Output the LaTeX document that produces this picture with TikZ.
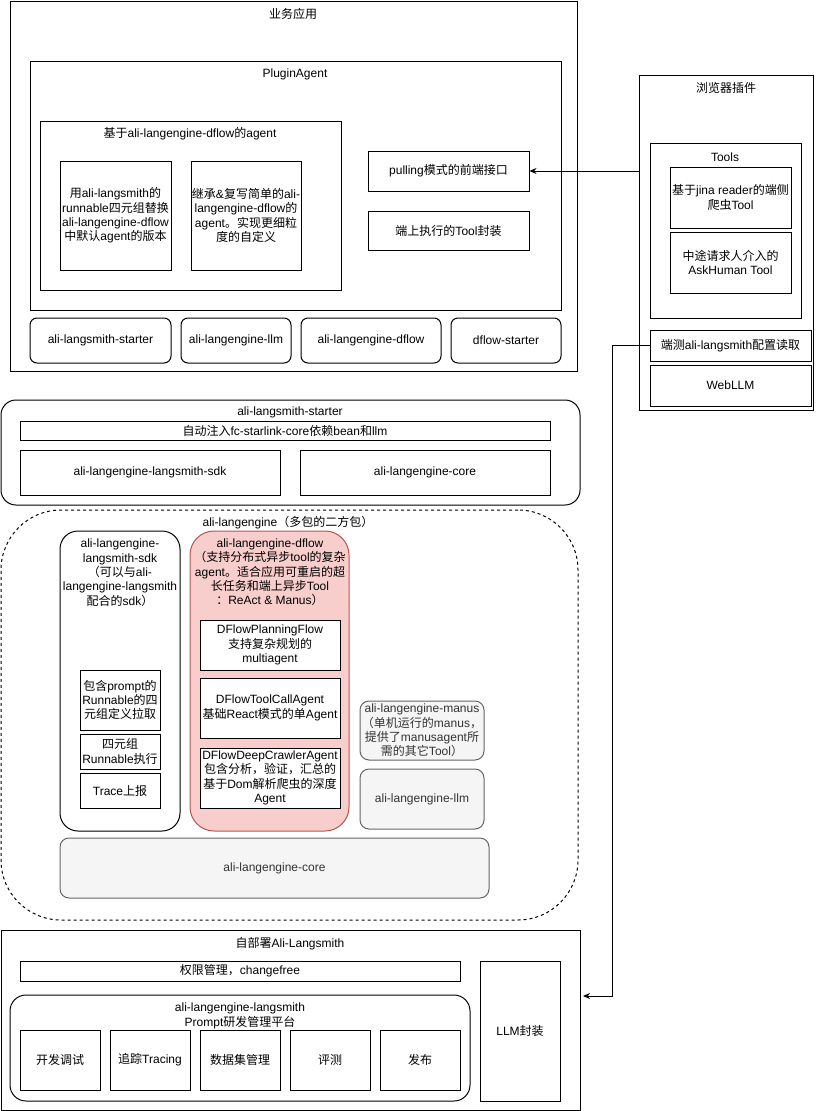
\documentclass[tikz,border=0pt]{standalone}
\usepackage{fontspec}
\setmainfont{Liberation Sans}
\newfontfamily\cjk{Noto Sans CJK SC}
\newcommand{\zh}[1]{{\cjk #1}}
\usetikzlibrary{arrows.meta}
\definecolor{redfill}{HTML}{F8CECC}
\definecolor{redline}{HTML}{B85450}
\definecolor{greyfill}{HTML}{F5F5F5}
\definecolor{greyline}{HTML}{666666}
\definecolor{greytext}{HTML}{333333}
\tikzset{
	every node/.style={font=\fontsize{12}{14.3}\selectfont, align=center, inner sep=0pt},
	sz/.style 2 args={minimum width=#1, minimum height=#2},
	box/.style={draw, line width=1pt, fill=white},
	rbox/.style={box, rounded corners=#1},
	rbox/.default=7pt,
	greybox/.style={rbox=#1, draw=greyline, fill=greyfill, text=greytext},
	greybox/.default=9pt,
	redbox/.style={rbox=24pt, draw=redline, fill=redfill},
	dashbox/.style={draw, line width=1pt, dash pattern=on 3pt off 3pt, rounded corners=60pt},
	arr/.style={-{Stealth[length=7pt,width=6pt]}, line width=1pt},
}

\begin{document}
\begin{tikzpicture}[x=1pt, y=-1pt]
	\useasboundingbox (0,0) rectangle (820,1111);
	% business application
	\node[box, sz={567pt}{370pt}] (biz) at (293.5,186) {};
	\node (bizT) at (293,14) {\zh{业务应用}};
	\node[box, sz={531pt}{249pt}] (plug) at (295.5,185.5) {};
	\node (plugT) at (295,74) {PluginAgent};
	\node[box, sz={301pt}{169pt}] (dflowAg) at (190.5,205.5) {};
	\node (dflowAgT) at (190,134) {\zh{基于}ali-langengine-dflow\zh{的}agent};
	\node[box, sz={111pt}{109pt}] (subA) at (115.5,215.5) {\zh{用}ali-langsmith\zh{的}\\runnable\zh{四元组替换}\\ali-langengine-dflow\\\zh{中默认}agent\zh{的版本}};
	\node[box, sz={110pt}{109pt}] (subB) at (246,215.5) {\zh{继承}\&\zh{复写简单的}ali-\\langengine-dflow\zh{的}\\agent\zh{。实现更细粒}\\\zh{度的自定义}};
	\node[box, sz={161pt}{40pt}] (pulling) at (448.5,171) {pulling\zh{模式的前端接口}};
	\node[box, sz={161pt}{39pt}] (tooling) at (448.5,230.5) {\zh{端上执行的}Tool\zh{封装}};
	% starters below plugin agent
	\node[rbox, sz={141pt}{45pt}] (st1) at (100.5,340.5) {ali-langsmith-starter};
	\node[rbox, sz={110pt}{45pt}] (st2) at (236,340.5) {ali-langengine-llm};
	\node[rbox, sz={140pt}{45pt}] (st3) at (371,340.5) {ali-langengine-dflow};
	\node[rbox, sz={110pt}{45pt}] (st4) at (506,340.5) {dflow-starter};

	% browser plugin
	\node[box, sz={174pt}{335pt}] (browser) at (726,242.5) {};
	\node (browT) at (726,88) {\zh{浏览器插件}};
	\node[box, sz={151pt}{175pt}] (tools) at (725.5,230.5) {};
	\node (toolsT) at (725,157) {Tools};
	\node[box, sz={121pt}{61pt}] (jina) at (730.5,197.5) {\zh{基于}jina reader\zh{的端侧}\\\zh{爬虫}Tool};
	\node[box, sz={121pt}{61pt}] (ask) at (730.5,262.5) {\zh{中途请求人介入的}\\AskHuman Tool};
	\node[box, sz={161pt}{31pt}] (cfg) at (730.5,345.5) {\zh{端测}ali-langsmith\zh{配置读取}};
	\node[box, sz={161pt}{41pt}] (webllm) at (730.5,385.5) {WebLLM};

	% ali-langsmith-starter
	\node[rbox=15pt, sz={579pt}{105pt}] (starter) at (290.5,452.5) {};
	\node (starterT) at (290,412) {ali-langsmith-starter};
	\node[box, sz={530pt}{19pt}] (inject) at (285,430.5) {\zh{自动注入}fc-starlink-core\zh{依赖}bean\zh{和}llm};
	\node[box, sz={260pt}{45pt}] (lsdk) at (150,472.5) {ali-langengine-langsmith-sdk};
	\node[box, sz={250pt}{45pt}] (lcore) at (425,472.5) {ali-langengine-core};

	% ali-langengine
	\node[dashbox, sz={577pt}{410pt}] (engine) at (289.5,715) {};
	\node (engineT) at (288,523) {ali-langengine\zh{（多包的二方包）}};
	\node[rbox=18pt, sz={120pt}{300pt}] (sdkCol) at (120,681) {};
	\node[anchor=north] (sdkColT) at (120,539) {ali-langengine-\\langsmith-sdk\\\zh{（可以与}ali-\\langengine-langsmith\\\zh{配合的}sdk\zh{）}};
	\node[box, sz={80pt}{60pt}] (pull) at (120,700) {\zh{包含}prompt\zh{的}\\Runnable\zh{的四}\\\zh{元组定义拉取}};
	\node[box, sz={80pt}{35pt}] (exec) at (120,751.5) {\zh{四元组}\\Runnable\zh{执行}};
	\node[box, sz={80pt}{35pt}] (trace) at (120,790.5) {Trace\zh{上报}};
	\node[redbox, sz={159pt}{300pt}] (dflowCol) at (269.5,681) {};
	\node[anchor=north] (dflowColT) at (270,538.5) {ali-langengine-dflow\\\zh{（支持分布式异步}tool\zh{的复杂}\\agent\zh{。适合应用可重启的超}\\\zh{长任务和端上异步}Tool\\\zh{：}ReAct \& Manus\zh{）}};
	\node[box, sz={140pt}{50pt}] (plan) at (270,645) {DFlowPlanningFlow\\\zh{支持复杂规划的}\\multiagent};
	\node[box, sz={140pt}{60pt}] (toolcall) at (270,708) {DFlowToolCallAgent\\\zh{基础}React\zh{模式的单}Agent};
	\node[box, sz={140pt}{60pt}] (crawler) at (270,778) {DFlowDeepCrawlerAgent\\\zh{包含分析，验证，汇总的}\\\zh{基于}Dom\zh{解析爬虫的深度}\\Agent};
	\node[greybox, sz={124pt}{59pt}] (manus) at (422,730.5) {ali-langengine-manus\\\zh{（单机运行的}manus\zh{，}\\\zh{提供了}manusagent\zh{所}\\\zh{需的其它}Tool\zh{）}};
	\node[greybox, sz={124pt}{60pt}] (ellm) at (422,799) {ali-langengine-llm};
	\node[greybox, sz={429pt}{60pt}] (ecore) at (274.5,868) {ali-langengine-core};

	% self-deployed langsmith
	\node[box, sz={579pt}{180pt}] (deploy) at (290.5,1020) {};
	\node (deployT) at (290,944) {\zh{自部署}Ali-Langsmith};
	\node[box, sz={440pt}{20pt}] (perm) at (240,971) {\zh{权限管理，}changefree};
	\node[rbox=16pt, sz={460pt}{106pt}] (lsm) at (240,1048) {};
	\node (lsmT) at (240,1016) {ali-langengine-langsmith\\Prompt\zh{研发管理平台}};
	\node[box, sz={80pt}{60pt}] (dev) at (60,1060) {\zh{开发调试}};
	\node[box, sz={80pt}{60pt}] (tracing) at (150,1060) {\zh{追踪}Tracing};
	\node[box, sz={80pt}{60pt}] (dataset) at (240,1060) {\zh{数据集管理}};
	\node[box, sz={80pt}{60pt}] (evaluate) at (330,1060) {\zh{评测}};
	\node[box, sz={80pt}{60pt}] (release) at (420,1060) {\zh{发布}};
	\node[box, sz={80pt}{140pt}] (llmWrap) at (520,1031) {LLM\zh{封装}};

	% connectors
	\coordinate (llmIn) at (583,996);
	\draw[arr] (pulling.east -| browser.west) -- (pulling.east);
	\draw[arr] (cfg.west) -- (cfg.west -| 612,0) |- (llmIn);
\end{tikzpicture}
\end{document}
